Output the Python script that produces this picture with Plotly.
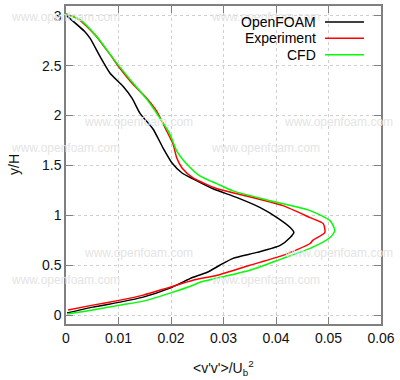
import plotly.graph_objects as go

# ---- data ----
of_x = [0.0, 0.0036, 0.0046, 0.0065, 0.0084, 0.0109, 0.0126, 0.0141, 0.0166, 0.0185,
        0.0202, 0.0221, 0.0242, 0.0280, 0.0326, 0.0370, 0.0402, 0.0427, 0.0434, 0.0427,
        0.0408, 0.0364, 0.0318, 0.0293, 0.0269, 0.0242, 0.0198, 0.0147, 0.0103, 0.0051, 0.0002]
of_y = [3.005, 2.839, 2.772, 2.590, 2.424, 2.291, 2.172, 2.022, 1.863, 1.674,
        1.525, 1.425, 1.366, 1.267, 1.178, 1.078, 0.978, 0.879, 0.829, 0.779,
        0.700, 0.630, 0.570, 0.501, 0.431, 0.381, 0.272, 0.182, 0.132, 0.082, 0.023]

exp_x = [0.0, 0.0023, 0.0055, 0.0084, 0.0103, 0.0128, 0.0154, 0.0173, 0.0192, 0.0204,
         0.0211, 0.0221, 0.0242, 0.0288, 0.0326, 0.0413, 0.0465, 0.0490, 0.0493, 0.0470,
         0.0465, 0.0413, 0.0350, 0.0288, 0.0242, 0.0192, 0.0147, 0.0103, 0.0051, 0.0004]
exp_y = [3.018, 2.968, 2.809, 2.610, 2.471, 2.311, 2.172, 2.042, 1.843, 1.714,
         1.575, 1.475, 1.376, 1.267, 1.217, 1.098, 0.978, 0.918, 0.829, 0.750,
         0.719, 0.600, 0.501, 0.401, 0.351, 0.272, 0.202, 0.152, 0.102, 0.053]

cfd_x = [0.0, 0.0027, 0.0059, 0.0090, 0.0122, 0.0154, 0.0179, 0.0198, 0.0211, 0.0230,
         0.0255, 0.0288, 0.0318, 0.0389, 0.0465, 0.0503, 0.0512, 0.0503, 0.0465, 0.0413,
         0.0350, 0.0255, 0.0242, 0.0198, 0.0147, 0.0103, 0.0051, 0.0002]
cfd_y = [3.018, 2.958, 2.789, 2.570, 2.361, 2.162, 1.973, 1.814, 1.645, 1.515,
         1.396, 1.316, 1.246, 1.147, 1.048, 0.948, 0.848, 0.779, 0.670, 0.570,
         0.451, 0.331, 0.301, 0.222, 0.142, 0.102, 0.053, 0.013]

x_ticks = [0, 0.01, 0.02, 0.03, 0.04, 0.05, 0.06]
x_tick_labels = ["0", "0.01", "0.02", "0.03", "0.04", "0.05", "0.06"]
y_ticks = [0, 0.5, 1, 1.5, 2, 2.5, 3]
y_tick_labels = ["0", "0.5", "1", "1.5", "2", "2.5", "3"]

series_names = ["OpenFOAM", "Experiment", "CFD"]
series_colors = ["#000000", "#ff0000", "#00ff00"]

# ---- layout geometry (pixels) ----
W, H = 400, 380
L, R, T, B = 66, 19, 4, 56
PW, PH = W - L - R, H - T - B

def px(xp):
    return (xp - L) / PW

def py(yp):
    return (H - B - yp) / PH

fig = go.Figure()
for name, xs, ys, col in zip(series_names, [of_x, exp_x, cfd_x], [of_y, exp_y, cfd_y], series_colors):
    fig.add_trace(go.Scatter(x=xs, y=ys, mode="lines", name=name, showlegend=False,
                             line=dict(color=col, width=1.5, shape="spline", smoothing=0.6)))

annotations = []
shapes = []

# watermark
wm_pos = [(65, 15), (265, 15), (138, 121), (338, 121), (65, 147), (265, 147),
          (138, 253), (338, 253), (65, 280), (265, 280)]
for (cx, cy) in wm_pos:
    annotations.append(dict(text="www.openfoam.com", x=px(cx), y=py(cy), xref="paper", yref="paper",
                            showarrow=False, xanchor="center", yanchor="middle",
                            font=dict(family="Liberation Sans, Arial", size=12, color="#e4e4e4")))

# manual legend (text left of sample, like the reference)
leg_rows = [20, 36.5, 53]
for name, col, ry in zip(series_names, series_colors, leg_rows):
    annotations.append(dict(text=name, x=px(318), y=py(ry), xref="paper", yref="paper",
                            showarrow=False, xanchor="right", yanchor="middle",
                            font=dict(family="Liberation Sans, Arial", size=14, color="#000000")))
    shapes.append(dict(type="line", xref="paper", yref="paper", x0=px(325), x1=px(364),
                       y0=py(ry), y1=py(ry), line=dict(color=col, width=1.5)))

# axis titles as annotations for exact placement
annotations.append(dict(text="&lt;v'v'&gt;/U<sub>b</sub><sup>2</sup>", x=px(223), y=py(368),
                        xref="paper", yref="paper", showarrow=False,
                        xanchor="center", yanchor="middle",
                        font=dict(family="Liberation Sans, Arial", size=14, color="#111111")))
annotations.append(dict(text="y/H", x=px(14), y=py(164), xref="paper", yref="paper",
                        showarrow=False, xanchor="center", yanchor="middle", textangle=-90,
                        font=dict(family="Liberation Sans, Arial", size=14, color="#111111")))

axis_common = dict(showline=True, linecolor="#808080", linewidth=1.5, mirror="ticks",
                   ticks="inside", ticklen=7, tickcolor="#808080", tickwidth=1,
                   showgrid=True, gridcolor="#cfcfcf", gridwidth=1, griddash="dot",
                   zeroline=False,
                   tickfont=dict(family="Liberation Sans, Arial", size=14, color="#111111"))

fig.update_layout(
    width=W, height=H, margin=dict(l=L, r=R, t=T, b=B, pad=0),
    paper_bgcolor="white", plot_bgcolor="white",
    xaxis=dict(range=[0, 0.06], tickvals=x_ticks, ticktext=x_tick_labels, **axis_common),
    yaxis=dict(range=[-0.087, 3.097], tickvals=y_ticks, ticktext=y_tick_labels, **axis_common),
    annotations=annotations, shapes=shapes, showlegend=False,
)

fig.write_html("out.html")
